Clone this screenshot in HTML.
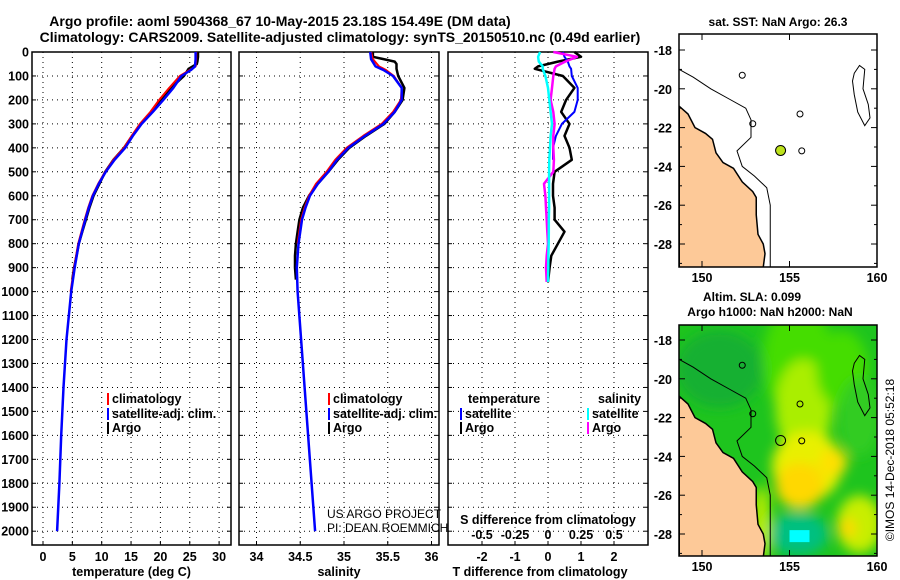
<!DOCTYPE html>
<html><head><meta charset="utf-8"><style>
body{margin:0;background:#fff;}
svg{display:block;font-family:"Liberation Sans",sans-serif;}
.b{font-weight:bold;font-size:12.5px;}
.t{font-weight:bold;font-size:14px;}
</style></head><body>
<svg id="c" width="900" height="580" viewBox="0 0 900 580"></svg>
<script>
// ---- data ----
const depthTicks=[0,100,200,300,400,500,600,700,800,900,1000,1100,1200,1300,1400,1500,1600,1700,1800,1900,2000];
const tempTicks=[0,5,10,15,20,25,30];
const salTicks=[34,34.5,35,35.5,36];
const salTickLabels=["34","34.5","35","35.5","36"];
const tdiffTicks=[-2,-1,0,1,2];
const sdiffTicks=[-0.5,-0.25,0,0.25,0.5];
const sdiffTickLabels=["-0.5","-0.25","0","0.25","0.5"];
const latTicks=[-18,-20,-22,-24,-26,-28];
const lonTicks=[150,155,160];

const profDepth=[0,30,60,75,100,150,200,250,300,350,400,450,500,550,600,650,700,800,900,1000,1200,1400,1600,1800,2000];
const tempSat=[26.0,26.0,25.9,25.2,23.6,22.2,20.5,18.7,16.8,15.3,14.0,12.2,10.7,9.5,8.5,7.8,7.2,6.1,5.4,4.8,4.0,3.5,3.1,2.8,2.4];
const tempClim=[26.1,26.1,26.0,25.0,23.3,21.5,19.8,18.3,16.5,15.1,13.8,12.0,10.6,9.4,8.4,7.7,7.1,6.0,5.3,4.7,3.9,3.4,3.0,2.7,2.3];
const salSat=[35.3,35.31,35.36,35.45,35.56,35.66,35.66,35.58,35.45,35.24,35.05,34.92,34.82,34.7,34.61,34.56,34.52,34.48,34.46,34.47,34.51,34.55,34.59,34.63,34.67];
const salClim=[35.31,35.33,35.4,35.48,35.57,35.66,35.65,35.56,35.43,35.22,35.03,34.9,34.8,34.68,34.6,34.55,34.51,34.47,34.46,34.47,34.51,34.55,34.59,34.63,34.67];
const argoDepth=[0,20,40,50,70,100,150,200,250,300,350,400,450,500,550,600,650,700,750,800,850,900,950];
const tempArgo=[26.4,26.4,26.3,26.2,24.8,24.0,21.8,20.2,18.5,16.7,15.2,13.8,12.0,10.6,9.6,8.6,7.9,7.3,6.7,6.1,5.7,5.3,5.0];
const salArgo=[35.33,35.33,35.58,35.6,35.6,35.62,35.69,35.67,35.58,35.46,35.25,35.06,34.93,34.82,34.7,34.6,34.53,34.49,34.47,34.45,34.44,34.44,34.45];
const diffDepth=[0,20,40,60,70,100,150,200,250,300,350,400,450,500,550,600,650,700,750,800,850,900,960];
const tdiffArgo=[0.8,1.0,0.3,-0.3,-0.4,0.45,0.8,0.55,0.4,0.65,0.5,0.65,0.72,0.2,0.15,0.15,0.2,0.2,0.5,0.3,0.1,0.05,0];
const tdiffSat=[0.45,0.5,0.6,0.65,0.7,0.72,0.9,0.9,0.8,0.42,0.24,0.15,0.15,0.15,0.12,0.15,0.1,0.08,0.08,0.05,0.05,0.03,0];
const sdiffSat=[-0.06,-0.075,-0.07,-0.04,-0.04,-0.02,0.0,0.01,0.02,0.03,0.02,0.015,0.01,0.008,0.008,0.008,0.008,0.006,0.006,0.005,0.003,0.002,0];
const sdiffArgo=[0.04,0.22,0.13,0.06,0.05,0.04,0.03,0.02,0.04,0.05,0.04,0.04,0.045,0.04,-0.03,-0.02,-0.015,-0.01,-0.005,0,-0.01,-0.015,-0.01];
const coastLon=[148.7,149.2,149.6,150.2,150.6,150.8,151.2,151.8,152.3,152.9,153.1,153.1,153.2,153.5,153.6,153.5,148.7];
const coastLat=[-20.9,-21.3,-22,-22.3,-22.6,-23.3,-23.8,-24.1,-24.8,-25.3,-25.6,-26.5,-27.5,-28,-28.5,-29.2,-29.2];
const shelfLon=[148.7,149.5,150.5,151.5,152.5,152.8,152.8,152.0,152.3,153.0,153.7,153.9,153.9,153.9];
const shelfLat=[-19.0,-19.4,-20.0,-20.5,-21.0,-21.6,-22.5,-23.2,-24.0,-24.5,-25.1,-26.0,-27.5,-29.2];
const islandLon=[158.7,159.0,159.3,159.2,159.5,159.6,159.3,158.9,158.7,158.6];
const islandLat=[-19.2,-18.8,-19.0,-20.0,-20.8,-21.5,-21.9,-21.2,-20.3,-19.6];
const argoLon=154.49, argoLat=-23.18;

// ---- helpers ----
const S=document.getElementById('c'),NS='http://www.w3.org/2000/svg';
function mk(tag,at,txt,parent){const e=document.createElementNS(NS,tag);for(const k in at)e.setAttribute(k,at[k]);if(txt!==undefined)e.textContent=txt;(parent||S).appendChild(e);return e;}
const yD=d=>52+d*0.2396;
const xT=t=>43+t*5.87;
const xS=s=>256.5+(s-34)*87.5;
const xDT=v=>548+v*33;
const xDS=v=>548+v*132;
const lonX=l=>702+(l-150)*17.5;
const latY1=la=>50+(-18-la)*19.4;
const latY2=la=>340+(-18-la)*19.4;
const PB=545;
const panels=[{x0:32,x1:231,ticks:tempTicks.map(xT),labs:tempTicks.map(String),title:"temperature (deg C)",name:"temperature-panel"},
{x0:239,x1:439,ticks:salTicks.map(xS),labs:salTickLabels,title:"salinity",name:"salinity-panel"},
{x0:448,x1:648,ticks:tdiffTicks.map(xDT),labs:tdiffTicks.map(String),title:"T difference from climatology",name:"difference-panel"}];

// titles
let e=mk('text',{x:280,y:26,'text-anchor':'middle',class:'t'},"Argo profile: aoml 5904368_67 10-May-2015 23.18S 154.49E (DM data)");


e=mk('text',{x:340,y:42,'text-anchor':'middle',class:'t'},"Climatology: CARS2009. Satellite-adjusted climatology: synTS_20150510.nc (0.49d earlier)");



panels.forEach(p=>{
  const g=mk('g',{});
  
  
  depthTicks.forEach(d=>{ if(d>0){const l=mk('line',{x1:p.x0,x2:p.x1,y1:yD(d),y2:yD(d),stroke:'#000','stroke-width':1,'stroke-dasharray':'1,4'},undefined,g);
    
    }
    mk('line',{x1:p.x0,x2:p.x0+4,y1:yD(d),y2:yD(d),stroke:'#000'},undefined,g);
    mk('line',{x1:p.x1-4,x2:p.x1,y1:yD(d),y2:yD(d),stroke:'#000'},undefined,g);});
  p.ticks.forEach((x,i)=>{const l=mk('line',{x1:x,x2:x,y1:52,y2:PB,stroke:'#000','stroke-dasharray':'1,4'},undefined,g);
    
    
    mk('line',{x1:x,x2:x,y1:PB-4,y2:PB,stroke:'#000'},undefined,g);
    const t=mk('text',{x:x,y:561,'text-anchor':'middle',class:'b'},p.labs[i],g);
    
    });
  const r=mk('rect',{x:p.x0,y:52,width:p.x1-p.x0,height:PB-52,fill:'none',stroke:'#000','stroke-width':1.5},undefined,g);
  
  
  const t=mk('text',{x:(p.x0+p.x1)/2+ (p.name==='difference-panel'?-8:0),y:576,'text-anchor':'middle',class:'b'},p.title,g);
  
  
});
depthTicks.forEach(d=>{const t=mk('text',{x:29,y:yD(d)+4.5,'text-anchor':'end',class:'b'},String(d));
  
  });

function line(xs,ds,fx,color,w,name){const pts=xs.map((v,i)=>fx(v).toFixed(1)+','+yD(ds[i]).toFixed(1)).join(' ');
  const l=mk('polyline',{points:pts,fill:'none',stroke:color,'stroke-width':w,'stroke-linejoin':'round'});
  
  }
line(tempArgo,argoDepth,xT,'#000',2.5,'temp-argo-line');
line(tempClim.slice(0,20),profDepth.slice(0,20),xT,'#f00',2,'temp-climatology-line');
line(tempSat,profDepth,xT,'#00f',2.5,'temp-satellite-line');
line(salArgo,argoDepth,xS,'#000',2.5,'salinity-argo-line');
line(salClim.slice(0,18),profDepth.slice(0,18),xS,'#f00',2,'salinity-climatology-line');
line(salSat,profDepth,xS,'#00f',2.5,'salinity-satellite-line');
line(tdiffArgo,diffDepth,xDT,'#000',2.5,'tdiff-argo-line');
line(tdiffSat.slice(0,13),diffDepth.slice(0,13),xDT,'#00f',2,'tdiff-satellite-line');
line(sdiffArgo,diffDepth,xDS,'#f0f',2.5,'sdiff-argo-line');
line(sdiffSat,diffDepth,xDS,'#0ff',2.5,'sdiff-satellite-line');

function legend(x,y,color,label,name){const r=mk('rect',{x:x,y:y-10,width:2,height:12,fill:color});
  
  
  const t=mk('text',{x:x+5,y:y,class:'b'},label);
  
  }
[[107,238],[328,0]].forEach(([x],k)=>{const px=k?328:107;
  legend(px,403,'#f00','climatology','legend-climatology');
  legend(px,418,'#00f','satellite-adj. clim.','legend-satellite');
  legend(px,432,'#000','Argo','legend-argo');});
e=mk('text',{x:468,y:403,class:'b'},'temperature');
e=mk('text',{x:598,y:403,class:'b'},'salinity');
legend(460,418,'#00f','satellite','legend-tdiff-satellite');
legend(460,432,'#000','Argo','legend-tdiff-argo');
legend(587,418,'#0ff','satellite','legend-sdiff-satellite');
legend(587,432,'#f0f','Argo','legend-sdiff-argo');
e=mk('text',{x:327,y:518,'font-size':12},'US ARGO PROJECT');
e=mk('text',{x:327,y:532,'font-size':12},'PI: DEAN ROEMMICH');
e=mk('text',{x:548,y:524,'text-anchor':'middle',class:'b'},'S difference from climatology');
sdiffTicks.forEach((v,i)=>{const t=mk('text',{x:xDS(v),y:539,'text-anchor':'middle',class:'b'},sdiffTickLabels[i]);
  
  });

// ---- maps ----
function map(top,bot,latY,name,field){
  const g=mk('g',{});
  
  
  const cid='clip'+name;
  const cp=mk('clipPath',{id:cid},undefined,g);mk('rect',{x:679,y:top,width:198,height:bot-top},undefined,cp);
  const inner=mk('g',{'clip-path':'url(#'+cid+')'},undefined,g);
  mk('rect',{x:679,y:top,width:198,height:bot-top,fill:field?'#1ec41e':'#fff'},undefined,inner);
  if(field){
    const f=mk('filter',{id:'bl',x:'-50%',y:'-50%',width:'200%',height:'200%'},undefined,g);mk('feGaussianBlur',{stdDeviation:6},undefined,f);
    const fg=mk('g',{filter:'url(#bl)'},undefined,inner);
    const blobs=[[155.5,-19,2,3,'#44dd00'],[155.8,-21.5,1.6,2.5,'#aaee00'],[156,-24.5,2,1.8,'#e8f000'],[155.6,-25.5,1.4,1.2,'#ffd800'],[157.5,-24.3,0.8,0.7,'#ffe000'],[158,-19.5,1.5,2,'#44dd00'],[159,-22,1.2,2,'#33cc22'],[155.5,-28,1.7,1.1,'#00c080'],[159,-27.5,1.3,1.5,'#c8ee00'],[158.3,-27.7,0.5,0.5,'#ffd800'],[151,-19.5,2.5,2,'#18b030'],[153.4,-27.5,0.5,2,'#bbee00']];
    blobs.forEach(b=>{const el=mk('ellipse',{cx:lonX(b[0]),cy:latY(b[1]),rx:b[2]*17.5,ry:b[3]*19.4,fill:b[4]},undefined,fg);
      
      });
    const c=mk('rect',{x:lonX(155),y:latY(-27.8),width:20,height:12,fill:'#00ffff'},undefined,inner);
    
    
  }
  const land=mk('polygon',{points:coastLon.map((l,i)=>lonX(l)+','+latY(coastLat[i])).join(' '),fill:'#fdc998',stroke:'#000','stroke-width':1.5},undefined,inner);
  
  
  const sh=mk('polyline',{points:shelfLon.map((l,i)=>lonX(l)+','+latY(shelfLat[i])).join(' '),fill:'none',stroke:'#000','stroke-width':1},undefined,inner);
  
  
  const is=mk('polygon',{points:islandLon.map((l,i)=>lonX(l)+','+latY(islandLat[i])).join(' '),fill:'none',stroke:'#000'},undefined,inner);
  
  
  [[152.3,-19.3],[152.9,-21.8],[155.6,-21.3],[155.7,-23.2]].forEach(p=>mk('circle',{cx:lonX(p[0]),cy:latY(p[1]),r:3,fill:'none',stroke:'#000'},undefined,inner));
  const dot=mk('circle',{cx:lonX(argoLon),cy:latY(argoLat),r:5,fill:field?'none':'#bde21c',stroke:'#000'},undefined,inner);
  
  
  const fr=mk('rect',{x:679,y:top,width:198,height:bot-top,fill:'none',stroke:'#000','stroke-width':1.5},undefined,g);
  
  
  for(let la=-17;la>=-29;la--){const y=latY(la);if(y<top||y>bot)continue;const len=la%2===0?6:3;
    mk('line',{x1:679,x2:679+len,y1:y,y2:y,stroke:'#000'},undefined,g);mk('line',{x1:877-len,x2:877,y1:y,y2:y,stroke:'#000'},undefined,g);}
  latTicks.forEach(la=>{const t=mk('text',{x:672,y:latY(la)+5,'text-anchor':'end',class:'b'},String(la),g);
    
    });
  lonTicks.forEach(l=>{mk('line',{x1:lonX(l),x2:lonX(l),y1:bot-6,y2:bot,stroke:'#000'},undefined,g);mk('line',{x1:lonX(l),x2:lonX(l),y1:top,y2:top+6,stroke:'#000'},undefined,g);
    const t=mk('text',{x:lonX(l),y:bot+15,'text-anchor':'middle',class:'b'},String(l),g);
    
    });
}
map(34,267,latY1,'sst-map',false);
map(325,556,latY2,'sla-map',true);
e=mk('text',{x:778,y:26,'text-anchor':'middle','font-weight':'bold','font-size':12},'sat. SST: NaN Argo: 26.3');
e=mk('text',{x:752,y:301,'text-anchor':'middle','font-weight':'bold','font-size':12},'Altim. SLA: 0.099');
e=mk('text',{x:770,y:316,'text-anchor':'middle','font-weight':'bold','font-size':12},'Argo h1000: NaN h2000: NaN');
e=mk('text',{x:894,y:460,'text-anchor':'middle','font-size':12,transform:'rotate(-90 894 460)'},'©IMOS 14-Dec-2018 05:52:18');
</script>
</body></html>
